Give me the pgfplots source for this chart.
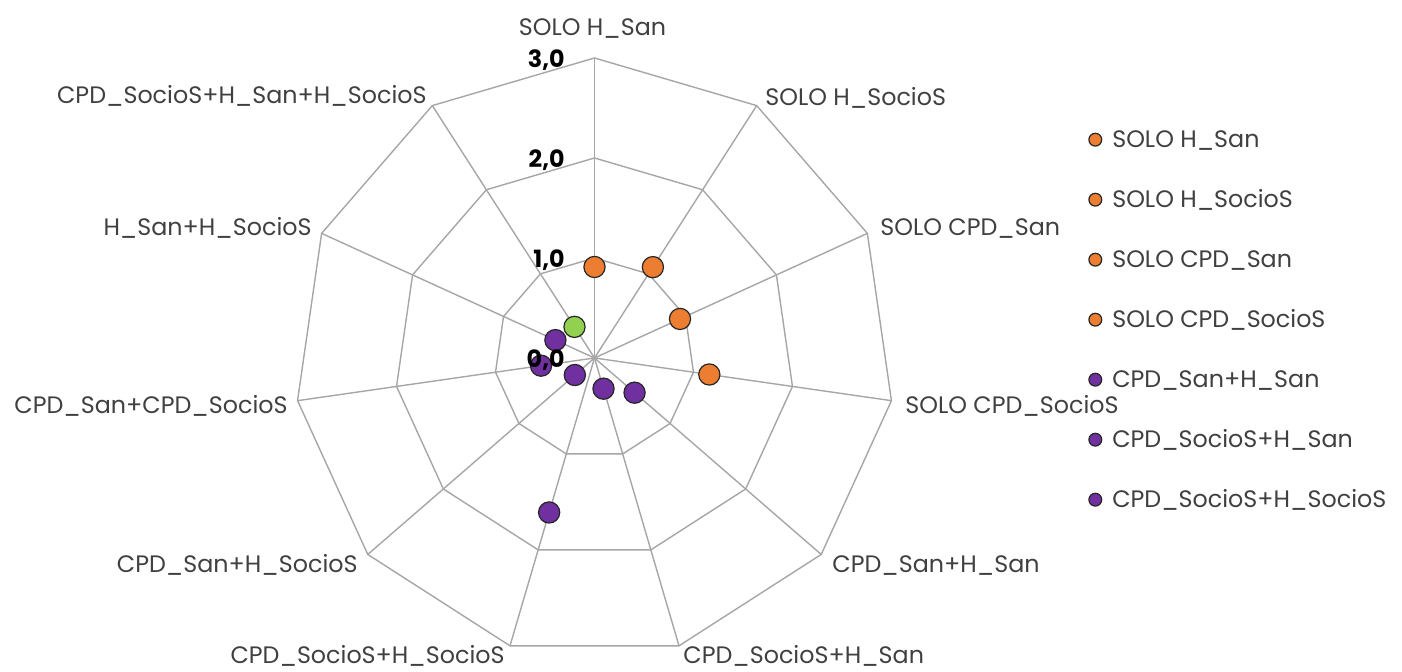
\documentclass[border=0pt]{standalone}
\usepackage{pgfplots}
\pgfplotsset{compat=1.18}
\usepackage{fontspec}
\setmainfont{Poppins}
\definecolor{gridc}{HTML}{A6A6A6}
\definecolor{txt}{HTML}{404040}
\definecolor{orng}{HTML}{ED7D31}
\definecolor{purp}{HTML}{7030A0}
\definecolor{grn}{HTML}{92D050}
\tikzset{cl/.style={inner sep=0pt, text height=8.3pt, text depth=0pt, text=txt, font=\fontsize{11.9}{13}\selectfont},
  tl/.style={anchor=east, inner sep=0pt, text height=8.3pt, text depth=0pt, font=\fontsize{11.9}{13}\selectfont\bfseries}}
\begin{document}
\begin{tikzpicture}
\begin{axis}[
  x=50pt, y=50pt, hide axis, clip=false,
  xmin=-3, xmax=3, ymin=-3, ymax=3,
  gridline/.style={gridc, line width=0.7pt, forget plot, no markers, data cs=polar},
  rdot/.style={only marks, data cs=polar, mark=*, mark size=5.3pt, color=#1, mark options={draw=black!85, line width=0.6pt, fill=#1}},
  legend image code/.code={\draw[#1, mark size=3.2pt] plot coordinates {(0cm,0cm)};},
  legend style={draw=none, fill=none, inner sep=0pt, at={(axis cs:4.94,2.27)}, anchor=north west,
    font=\fontsize{11.9}{13}\selectfont, text=txt, row sep=21.7pt,
    nodes={inner sep=0pt, text height=8.3pt, text depth=0pt},
    /tikz/every odd column/.append style={column sep=5.3pt}},
  legend cell align=left,
]
\coordinate (O) at (axis cs:0,0);
\coordinate (t0) at (axis cs:-0.295,-0.015);
\coordinate (t1) at (axis cs:-0.295,0.985);
\coordinate (t2) at (axis cs:-0.295,1.985);
\coordinate (t3) at (axis cs:-0.295,2.985);
% rings
\pgfplotsinvokeforeach{1,2,3}{
\addplot[gridline] coordinates {(90,#1)(57.2727,#1)(24.5455,#1)(-8.1818,#1)(-40.9091,#1)(-73.6364,#1)(-106.3636,#1)(-139.0909,#1)(-171.8182,#1)(155.4545,#1)(122.7273,#1)(90,#1)};
}
% spokes
\pgfplotsinvokeforeach{90,57.2727,24.5455,-8.1818,-40.9091,-73.6364,-106.3636,-139.0909,-171.8182,155.4545,122.7273}{
\addplot[gridline] coordinates {(0,0)(#1,3)};
}
% data series (angle, value)
\addplot[rdot=orng] coordinates {(90,0.91)};
\addlegendentry{SOLO H\_San}
\addplot[rdot=orng] coordinates {(57.2727,1.08)};
\addlegendentry{SOLO H\_SocioS}
\addplot[rdot=orng] coordinates {(24.5455,0.94)};
\addlegendentry{SOLO CPD\_San}
\addplot[rdot=orng] coordinates {(-8.1818,1.16)};
\addlegendentry{SOLO CPD\_SocioS}
\addplot[rdot=purp] coordinates {(-40.9091,0.53)};
\addlegendentry{CPD\_San+H\_San}
\addplot[rdot=purp] coordinates {(-73.6364,0.32)};
\addlegendentry{CPD\_SocioS+H\_San}
\addplot[rdot=purp] coordinates {(-106.3636,1.61)};
\addlegendentry{CPD\_SocioS+H\_SocioS}
\addplot[rdot=purp, forget plot] coordinates {(-139.0909,0.26)};
\addplot[rdot=purp, forget plot] coordinates {(-171.8182,0.54)};
\addplot[rdot=purp, forget plot] coordinates {(155.4545,0.43)};
\addplot[rdot=grn, forget plot] coordinates {(122.7273,0.37)};
% category labels
\node[cl, anchor=center] at (axis cs:-0.02,3.303) {SOLO H\_San};
\node[cl, anchor=west] at (axis cs:1.705,2.61) {SOLO H\_SocioS};
\node[cl, anchor=west] at (axis cs:2.855,1.31) {SOLO CPD\_San};
\node[cl, anchor=west] at (axis cs:3.105,-0.47) {SOLO CPD\_SocioS};
\node[cl, anchor=west] at (axis cs:2.375,-2.06) {CPD\_San+H\_San};
\node[cl, anchor=west] at (axis cs:0.885,-2.975) {CPD\_SocioS+H\_San};
\node[cl, anchor=east] at (axis cs:-0.895,-2.975) {CPD\_SocioS+H\_SocioS};
\node[cl, anchor=east] at (axis cs:-2.365,-2.06) {CPD\_San+H\_SocioS};
\node[cl, anchor=east] at (axis cs:-3.065,-0.47) {CPD\_San+CPD\_SocioS};
\node[cl, anchor=east] at (axis cs:-2.825,1.31) {H\_San+H\_SocioS};
\node[cl, anchor=east] at (axis cs:-1.675,2.63) {CPD\_SocioS+H\_San+H\_SocioS};
\end{axis}
% radial tick labels, drawn on top of the markers
\node[tl] at (t0) {0,0};
\node[tl] at (t1) {1,0};
\node[tl] at (t2) {2,0};
\node[tl] at (t3) {3,0};
\pgfresetboundingbox
\path[use as bounding box] (O) ++(-297.25pt,-157pt) rectangle ++(701pt,336pt);
\end{tikzpicture}
\end{document}
